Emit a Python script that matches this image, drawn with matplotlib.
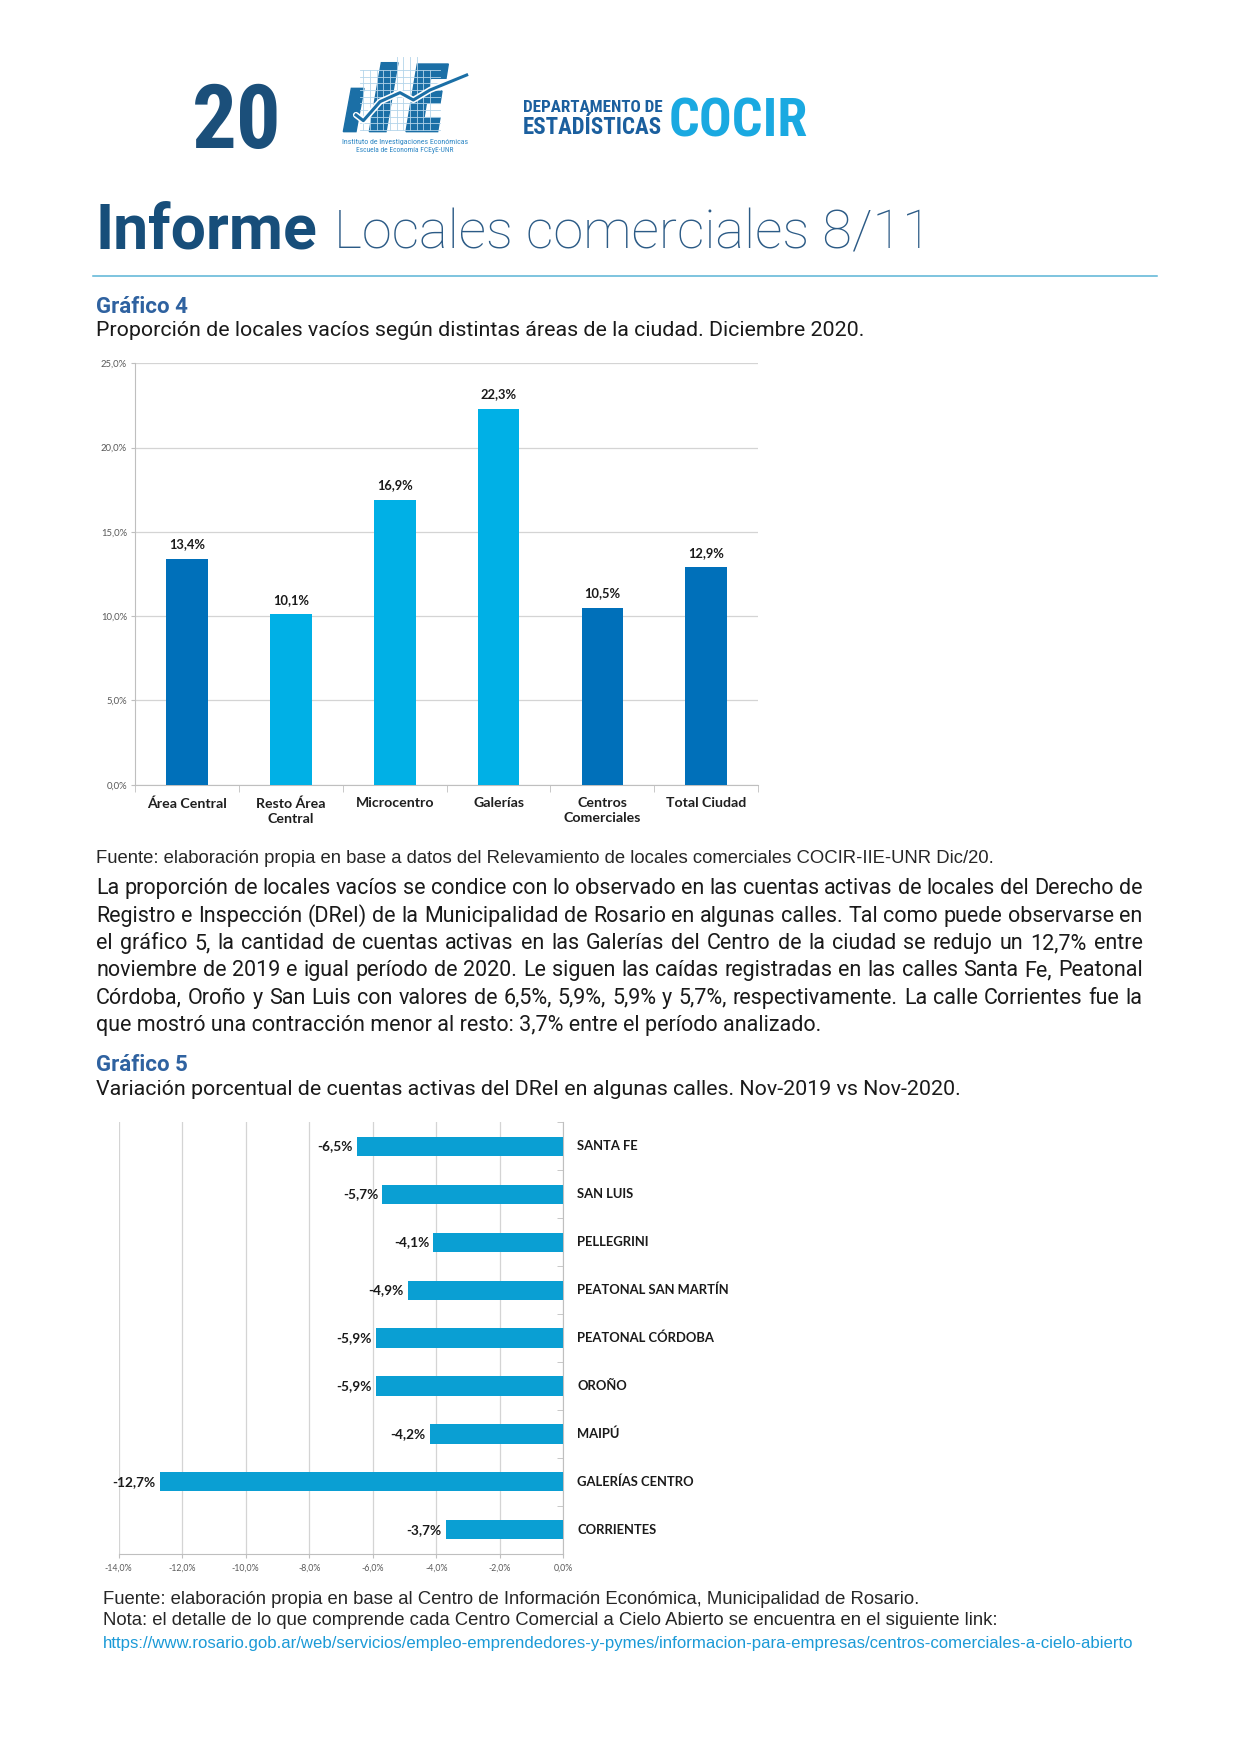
import matplotlib
matplotlib.use("Agg")
import matplotlib.pyplot as plt
from matplotlib import font_manager
from matplotlib.patches import Polygon
from matplotlib.ticker import FixedLocator

plt.rcParams['font.family'] = ['Roboto', 'DejaVu Sans']

# ---- data ----
areas = ['Área Central', 'Resto Área\nCentral', 'Microcentro', 'Galerías',
         'Centros\nComerciales', 'Total Ciudad']
vacios = [13.4, 10.1, 16.9, 22.3, 10.5, 12.9]

calles = ['SANTA FE', 'SAN LUIS', 'PELLEGRINI', 'PEATONAL SAN MARTÍN',
          'PEATONAL CÓRDOBA', 'OROÑO', 'MAIPÚ', 'GALERÍAS CENTRO', 'CORRIENTES']
variacion = [-6.5, -5.7, -4.1, -4.9, -5.9, -5.9, -4.2, -12.7, -3.7]

y_ticks1 = [0, 5, 10, 15, 20, 25]
x_ticks2 = [-14, -12, -10, -8, -6, -4, -2, 0]

parrafo = [
    "La proporción de locales vacíos se condice con lo observado en las cuentas activas de locales del Derecho de",
    "Registro e Inspección (DReI) de la Municipalidad de Rosario en algunas calles. Tal como puede observarse en",
    "el gráfico 5, la cantidad de cuentas activas en las Galerías del Centro de la ciudad se redujo un 12,7% entre",
    "noviembre de 2019 e igual período de 2020. Le siguen las caídas registradas en las calles Santa Fe, Peatonal",
    "Córdoba, Oroño y San Luis con valores de 6,5%, 5,9%, 5,9% y 5,7%, respectivamente. La calle Corrientes fue la",
    "que mostró una contracción menor al resto: 3,7% entre el período analizado.",
]

DARK = '#0070ba'
LIGHT = '#00b0e6'
bar_colors = [DARK, LIGHT, LIGHT, LIGHT, DARK, DARK]
NAVY = '#174e7a'
CHART = ['Lato', 'DejaVu Sans']
ARIAL = ['Liberation Sans', 'DejaVu Sans']

# a narrow face for the logo lettering, if one is installed
installed = {f.name for f in font_manager.fontManager.ttflist}
narrow = [n for n in ['Liberation Sans Narrow', 'Roboto Condensed', 'Arial Narrow',
                      'Open Sans Condensed'] if n in installed]
dv_cond = any(f.name == 'DejaVu Sans' and 'condensed' in str(f.stretch)
              for f in font_manager.fontManager.ttflist)
if narrow:
    NARROW = dict(family=[narrow[0], 'DejaVu Sans'])
elif dv_cond:
    NARROW = dict(family=['DejaVu Sans'], fontstretch='condensed')
else:
    NARROW = dict(family=['Roboto', 'DejaVu Sans'])


def fx(px):
    return px / 1110


def fy(py):
    return 1 - py / 1570


def pct(v):
    return ('%.1f%%' % v).replace('.', ',')


fig = plt.figure(figsize=(12.41, 17.55), dpi=100)
renderer = fig.canvas.get_renderer()


def fit(x, y, s, width, max_size, ha='left', **kw):
    # width and positions in the 1110-wide layout grid
    t = fig.text(fx(x), fy(y), s, fontsize=10, va='baseline', ha=ha, **kw)
    w = t.get_window_extent(renderer).width * 1110 / 1241
    t.set_fontsize(min(max_size, 10 * width / w))
    return t


# ---- header ----
fit(172, 132, '20', 80, 72, fontweight='bold', color='#1b4f7a', **NARROW)

# IIE logo (decoration)
lg = fig.add_axes([330 / 1241, 1 - 160 / 1755, 150 / 1241, 110 / 1755])
lg.set_xlim(0, 450)
lg.set_ylim(330, 0)
lg.axis('off')
for gx in range(100, 320, 20):
    lg.plot([gx, gx], [20 if 180 < gx < 280 else 60, 240], color='#b3d4ea', lw=0.6)
for gy in range(60, 245, 20):
    lg.plot([90, 330], [gy, gy], color='#b3d4ea', lw=0.6)
logo_blue = '#1b6fa6'
lg.add_patch(Polygon([(40, 245), (64, 115), (102, 115), (78, 245)], color=logo_blue))
lg.add_patch(Polygon([(118, 245), (154, 38), (204, 38), (168, 245)], color=logo_blue))
lg.add_patch(Polygon([(228, 245), (262, 42), (355, 42), (348, 85), (302, 85), (295, 123),
                      (336, 123), (330, 160), (289, 160), (282, 203), (330, 203), (323, 245)],
                     color=logo_blue))
zz_x = [78, 100, 150, 210, 250, 300, 410]
zz_y = [195, 212, 155, 128, 150, 120, 75]
lg.plot(zz_x, zz_y, color='white', lw=4.5, solid_capstyle='round')
lg.plot(zz_x, zz_y, color=logo_blue, lw=2.2)
fit(362, 129, 'Instituto de Investigaciones Económicas', 112, 7, ha='center',
    color='#2c86c4', **NARROW)
fit(362, 136, 'Escuela de Economía FCEyE-UNR', 86, 7, ha='center',
    color='#2c86c4', **NARROW)

fit(468, 100, 'DEPARTAMENTO DE', 124, 15, fontweight='bold', color='#1b5f9e', **NARROW)
fit(468, 120, 'ESTADÍSTICAS', 124, 17, fontweight='bold', color='#1b5f9e', **NARROW)
fit(598, 122, 'COCIR', 124, 42, fontweight='bold', color='#1aa9e1', **NARROW)

fig.text(fx(85), fy(222), 'Informe', fontsize=45, fontweight='bold', color=NAVY,
         va='baseline')
fig.text(fx(299), fy(222), 'Locales comerciales 8/11', fontsize=39, fontweight=100,
         color='#2c5b86', va='baseline')
fig.add_artist(plt.Line2D([fx(83), fx(1035)], [fy(247), fy(247)], color='#5ab4d6', lw=1.1))

fig.text(fx(86), fy(280), 'Gráfico 4', fontsize=16, fontweight='bold', color='#2f62a0',
         va='baseline')
fig.text(fx(86), fy(301), 'Proporción de locales vacíos según distintas áreas de la ciudad. Diciembre 2020.',
         fontsize=15.4, color='#1a1a1a', va='baseline')

# ---- chart 1 ----
ax1 = fig.add_axes([fx(121), fy(702), fx(678) - fx(121), fy(325) - fy(702)])
pos1 = range(len(areas))
bars = ax1.bar(pos1, vacios, width=0.4, color=bar_colors, zorder=3)
for b, v in zip(bars, vacios):
    ax1.annotate(pct(v), (b.get_x() + b.get_width() / 2, v), xytext=(0, 6),
                 textcoords='offset points', ha='center', va='bottom',
                 fontsize=9.3, fontweight='bold', family=CHART, color='#1a1a1a')
ax1.set_xlim(-0.5, len(areas) - 0.5)
ax1.set_ylim(0, 25)
ax1.set_yticks(y_ticks1)
ax1.set_yticklabels([pct(t) for t in y_ticks1], fontsize=6.8, family=CHART, color='#595959')
ax1.set_xticks(list(pos1))
ax1.set_xticklabels(areas, fontsize=10.2, fontweight='bold', family=CHART, color='#1f1f1f',
                    linespacing=1.3, va='top')
ax1.xaxis.set_minor_locator(FixedLocator([i - 0.5 for i in range(len(areas) + 1)]))
ax1.tick_params(axis='x', which='major', length=0, pad=9)
ax1.tick_params(axis='x', which='minor', length=5, color='#bfbfbf')
ax1.tick_params(axis='y', length=3, color='#bfbfbf', pad=3)
ax1.yaxis.grid(True, color='#d4d4d4', lw=0.9)
ax1.set_axisbelow(True)
for s in ['top', 'right']:
    ax1.spines[s].set_visible(False)
for s in ['left', 'bottom']:
    ax1.spines[s].set_color('#bfbfbf')

fig.text(fx(86), fy(772), 'Fuente: elaboración propia en base a datos del Relevamiento de locales comerciales COCIR-IIE-UNR Dic/20.',
         fontsize=13.3, family=ARIAL, color='#262626', va='baseline')

# ---- paragraph (justified) ----
x0, x1 = fx(86), fx(1022)
for i, line in enumerate(parrafo):
    y = fy(800 + i * 24.5)
    kw = dict(fontsize=15.5, color='#1a1a1a', va='baseline')
    if i == len(parrafo) - 1:
        fig.text(x0, y, line, **kw)
        continue
    words = line.split()
    ts = [fig.text(x0, y, w, **kw) for w in words]
    ws = [t.get_window_extent(renderer).width / fig.bbox.width for t in ts]
    gap = (x1 - x0 - sum(ws)) / (len(words) - 1)
    xx = x0
    for t, w in zip(ts, ws):
        t.set_x(xx)
        xx += w + gap

fig.text(fx(86), fy(958), 'Gráfico 5', fontsize=16, fontweight='bold', color='#2f62a0',
         va='baseline')
fig.text(fx(86), fy(980), 'Variación porcentual de cuentas activas del DReI en algunas calles. Nov-2019 vs Nov-2020.',
         fontsize=15.4, color='#1a1a1a', va='baseline')

# ---- chart 2 ----
ax2 = fig.add_axes([fx(106), fy(1390), fx(504) - fx(106), fy(1004) - fy(1390)])
pos2 = range(len(calles))
ax2.barh(pos2, variacion, height=0.4, color='#0a9fd3', zorder=3)
for p, v, c in zip(pos2, variacion, calles):
    ax2.annotate(pct(v), (v, p), xytext=(-3, 0), textcoords='offset points',
                 ha='right', va='center', fontsize=9.8, fontweight='bold', family=CHART,
                 color='#1a1a1a')
    ax2.annotate(c, (0, p), xytext=(10, 0), textcoords='offset points',
                 ha='left', va='center', fontsize=9.4, fontweight='bold', family=CHART,
                 color='#1a1a1a', annotation_clip=False)
ax2.set_xlim(-14, 0)
ax2.set_ylim(len(calles) - 0.5, -0.5)
ax2.set_xticks(x_ticks2)
ax2.set_xticklabels([pct(t) for t in x_ticks2], fontsize=6.3, family=CHART, color='#595959')
ax2.set_yticks([])
ax2.yaxis.set_minor_locator(FixedLocator([i - 0.5 for i in range(len(calles) + 1)]))
ax2.yaxis.tick_right()
ax2.tick_params(axis='y', which='minor', direction='in', length=4, color='#bfbfbf')
ax2.tick_params(axis='x', length=3, color='#bfbfbf', pad=4)
ax2.xaxis.grid(True, color='#d4d4d4', lw=0.9)
ax2.set_axisbelow(True)
for s in ['top', 'left']:
    ax2.spines[s].set_visible(False)
for s in ['right', 'bottom']:
    ax2.spines[s].set_color('#bfbfbf')

fig.text(fx(92), fy(1435), 'Fuente: elaboración propia en base al Centro de Información Económica, Municipalidad de Rosario.',
         fontsize=13.3, family=ARIAL, color='#262626', va='baseline')
fig.text(fx(92), fy(1454), 'Nota: el detalle de lo que comprende cada Centro Comercial a Cielo Abierto se encuentra en el siguiente link:',
         fontsize=13.3, family=ARIAL, color='#262626', va='baseline')
fig.text(fx(92), fy(1474), 'https://www.rosario.gob.ar/web/servicios/empleo-emprendedores-y-pymes/informacion-para-empresas/centros-comerciales-a-cielo-abierto',
         fontsize=12.1, family=ARIAL, color='#1b9ad7', va='baseline')

fig.savefig('out.png', dpi=100, facecolor='white')
